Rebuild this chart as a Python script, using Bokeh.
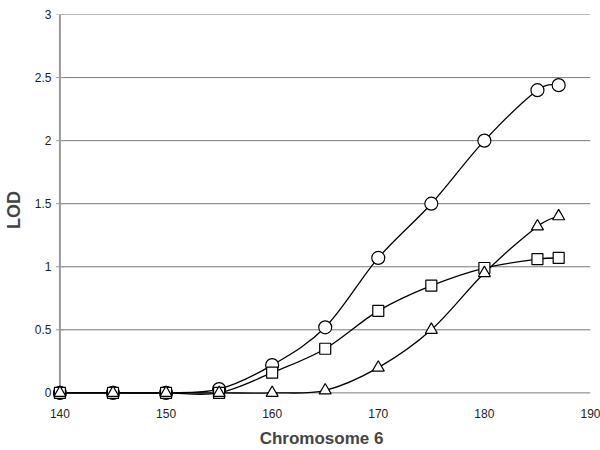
from bokeh.plotting import figure
from bokeh.models import Range1d, FixedTicker
from bokeh.embed import file_html
from bokeh.resources import INLINE

positions = [140, 145, 150, 155, 160, 165, 170, 175, 180, 185, 187]
lod_circle = [0, 0, 0, 0.03, 0.22, 0.52, 1.07, 1.50, 2.00, 2.40, 2.44]
lod_square = [0, 0, 0, 0.0, 0.16, 0.35, 0.65, 0.85, 0.99, 1.06, 1.07]
lod_triangle = [0, 0, 0, 0.0, 0.0, 0.02, 0.20, 0.50, 0.95, 1.32, 1.40]
x_ticks = [140, 150, 160, 170, 180, 190]
y_ticks = [0, 0.5, 1, 1.5, 2, 2.5, 3]

FONT = "Liberation Sans"

p = figure(frame_width=538, frame_height=391, output_backend="svg", toolbar_location=None,
           x_range=Range1d(139.3, 190), y_range=Range1d(-0.1, 3),
           min_border_left=52, min_border_right=10, min_border_top=14, min_border_bottom=45)
p.outline_line_color = None
p.background_fill_color = "white"
p.border_fill_color = "white"
p.xgrid.grid_line_color = None
p.ygrid.grid_line_color = None

p.xaxis.ticker = FixedTicker(ticks=x_ticks)
p.xaxis.axis_line_color = None
p.xaxis.major_tick_line_color = None
p.xaxis.major_tick_in = 0
p.xaxis.major_tick_out = 0
p.xaxis.minor_tick_line_color = None
p.xaxis.minor_tick_out = 0
p.xaxis.major_label_text_font = FONT
p.xaxis.major_label_text_font_size = "12px"
p.xaxis.major_label_text_color = "#222222"
p.xaxis.major_label_standoff = 3
p.xaxis.axis_label = "Chromosome 6"
p.xaxis.axis_label_text_font = FONT
p.xaxis.axis_label_text_font_style = "bold"
p.xaxis.axis_label_text_font_size = "17px"
p.xaxis.axis_label_standoff = 8

p.yaxis.ticker = FixedTicker(ticks=y_ticks)
p.yaxis.axis_line_color = None
p.yaxis.major_tick_line_color = None
p.yaxis.major_tick_in = 0
p.yaxis.major_tick_out = 0
p.yaxis.minor_tick_line_color = None
p.yaxis.minor_tick_out = 0
p.yaxis.major_label_text_font = FONT
p.yaxis.major_label_text_font_size = "12px"
p.yaxis.major_label_text_color = "#222222"
p.yaxis.major_label_standoff = 1
p.yaxis.axis_label = "LOD"
p.yaxis.axis_label_text_font = FONT
p.yaxis.axis_label_text_font_style = "bold"
p.yaxis.axis_label_text_font_size = "18px"
p.yaxis.axis_label_standoff = 8

# horizontal grid lines from the first to the last x tick
p.segment(x0=[x_ticks[0]] * len(y_ticks), y0=y_ticks,
          x1=[x_ticks[-1]] * len(y_ticks), y1=y_ticks,
          line_color="#7a7a7a", line_width=1)
# y axis line at the first x tick, with outward tick marks
p.segment(x0=[x_ticks[0]], y0=[y_ticks[0]], x1=[x_ticks[0]], y1=[y_ticks[-1]],
          line_color="#9a9a9a", line_width=2)
p.scatter([x_ticks[0]] * len(y_ticks), y_ticks, marker="dash", size=8,
          line_color="#9a9a9a", line_width=1)


def smooth(xs, ys):
    n = len(xs)
    x0, y0, x1, y1, cx0, cy0, cx1, cy1 = [], [], [], [], [], [], [], []
    for i in range(n - 1):
        xm = xs[i - 1] if i > 0 else xs[i]
        ym = ys[i - 1] if i > 0 else ys[i]
        xp = xs[i + 2] if i + 2 < n else xs[i + 1]
        yp = ys[i + 2] if i + 2 < n else ys[i + 1]
        x0.append(xs[i]); y0.append(ys[i])
        x1.append(xs[i + 1]); y1.append(ys[i + 1])
        cx0.append(xs[i] + (xs[i + 1] - xm) / 6.0)
        cy0.append(ys[i] + (ys[i + 1] - ym) / 6.0)
        cx1.append(xs[i + 1] - (xp - xs[i]) / 6.0)
        cy1.append(ys[i + 1] - (yp - ys[i]) / 6.0)
    return dict(x0=x0, y0=y0, x1=x1, y1=y1, cx0=cx0, cy0=cy0, cx1=cx1, cy1=cy1)


for ys in (lod_circle, lod_square, lod_triangle):
    p.bezier(line_color="black", line_width=1.3, **smooth(positions, ys))

p.scatter(positions, lod_circle, marker="circle", size=13, fill_color="white",
          line_color="black", line_width=1.2)
p.scatter(positions, lod_square, marker="square", size=11, fill_color="white",
          line_color="black", line_width=1.2)
p.scatter(positions, lod_triangle, marker="triangle", size=12, fill_color="white",
          line_color="black", line_width=1.2)

open("out.html", "w").write(file_html(p, INLINE))
